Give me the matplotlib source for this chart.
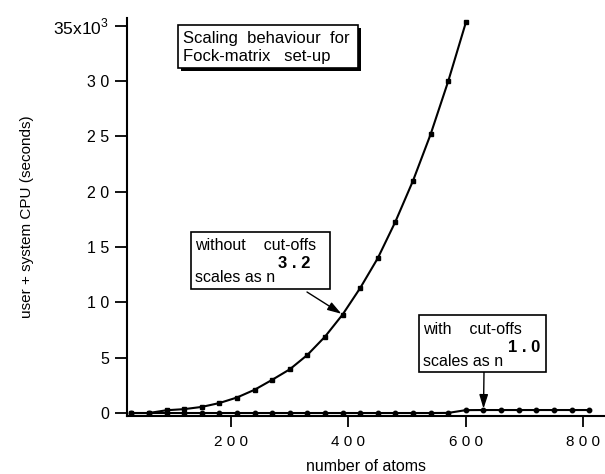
#!/usr/bin/env python3
"""Scaling behaviour for Fock-matrix set-up (CPU time vs number of atoms)."""

import matplotlib
matplotlib.use("Agg")
import matplotlib.pyplot as plt
import matplotlib.patheffects as pe
from matplotlib.patches import Rectangle

# data (seconds)
atoms_nocut = [30, 60, 90, 120, 150, 180, 210, 240, 270, 300,
               330, 360, 390, 420, 450, 480, 510, 540, 570, 600]
cpu_nocut = [0, 0, 250, 350, 550, 900, 1400, 2100, 3000, 3950,
             5250, 6900, 8900, 11300, 14000, 17300, 21000, 25200, 30000, 35300]

atoms_cut = [30, 60, 90, 120, 150, 180, 210, 240, 270, 300, 330, 360, 390, 420,
             450, 480, 510, 540, 570, 600, 630, 660, 690, 720, 750, 780, 810]
cpu_cut = [0, 0, 0, 0, 0, 0, 0, 0, 0, 0, 0, 0, 0, 0,
           0, 0, 0, 0, 10, 260, 270, 270, 270, 270, 270, 270, 270]

yticks = [0, 5000, 10000, 15000, 20000, 25000, 30000, 35000]
ytick_labels = ["0", "5", "1 0", "1 5", "2 0", "2 5", "3 0", "35x10$^{3}$"]
xticks = [200, 400, 600, 800]
xtick_labels = ["2 0 0", "4 0 0", "6 0 0", "8 0 0"]

W, H = 605, 474
plt.rcParams["font.family"] = ["Liberation Sans", "DejaVu Sans"]
plt.rcParams["mathtext.fontset"] = "custom"
plt.rcParams["mathtext.rm"] = "Liberation Sans"


def px(x, y):
    """pixel position measured from top-left -> figure fraction"""
    return x / W, 1 - y / H


def add_box(fig, x0, y0, x1, y1, shadow=False):
    fx, fy = px(x0, y1)
    rect = Rectangle((fx, fy), (x1 - x0) / W, (y1 - y0) / H, transform=fig.transFigure,
                     facecolor="white", edgecolor="black", linewidth=1.2, zorder=5)
    if shadow:
        rect.set_path_effects([pe.SimplePatchShadow(offset=(1.8, -1.8), shadow_rgbFace="black", alpha=1.0),
                               pe.Normal()])
    fig.add_artist(rect)


def add_text(fig, x, y, s, **kw):
    fx, fy = px(x, y)
    fig.text(fx, fy, s, ha="left", va="center", zorder=6, **kw)


def add_arrow(ax, tip, start):
    ax.annotate("", xy=tip, xycoords="data", xytext=px(*start), textcoords="figure fraction",
                arrowprops=dict(arrowstyle="-|>,head_length=0.7,head_width=0.22", color="black",
                                lw=1.0, mutation_scale=12, shrinkA=0, shrinkB=1))


fig = plt.figure(figsize=(W / 100, H / 100), dpi=100)
ax = fig.add_axes([127 / W, 1 - 416 / H, 1 - 127 / W, (416 - 18) / H])

ax.plot(atoms_nocut, cpu_nocut, color="black", linewidth=1.5, marker="s", markersize=3.2)
ax.plot(atoms_cut, cpu_cut, color="black", linewidth=1.5, marker="o", markersize=3.2)

ax.set_xlim(22.7, 837)
ax.set_ylim(-270, 35700)
ax.set_xticks(xticks, xtick_labels)
ax.set_yticks(yticks, ytick_labels)
ax.tick_params(direction="out", length=9, width=1.3, labelsize=11.5, pad=4)
ax.tick_params(axis="x", length=8, pad=6, labelsize=11)
for side in ("top", "right"):
    ax.spines[side].set_visible(False)
for side in ("left", "bottom"):
    ax.spines[side].set_linewidth(1.5)
ax.get_yticklabels()[-1].set_fontsize(12.5)

ax.set_xlabel("number of atoms", fontsize=11.5, labelpad=7)
ax.set_ylabel("user + system CPU (seconds)", fontsize=11, labelpad=14)

# title box
add_box(fig, 178, 25, 358, 68, shadow=True)
add_text(fig, 183, 38, "Scaling  behaviour  for", fontsize=12)
add_text(fig, 183, 57, "Fock-matrix   set-up", fontsize=12)

# without cut-offs
add_box(fig, 191, 232, 330, 289)
add_text(fig, 195, 246, "without    cut-offs", fontsize=11.5)
add_text(fig, 195, 277, "scales as n", fontsize=11.5)
add_text(fig, 278, 264, "3 . 2", fontsize=12, fontweight="bold")
add_arrow(ax, (atoms_nocut[12], cpu_nocut[12]), (307, 292))

# with cut-offs
add_box(fig, 419, 315, 546, 372)
add_text(fig, 423, 329, "with    cut-offs", fontsize=11.5)
add_text(fig, 423, 361, "scales as n", fontsize=11.5)
add_text(fig, 508, 347, "1 . 0", fontsize=12, fontweight="bold")
add_arrow(ax, (atoms_cut[20], cpu_cut[20]), (484, 372))

fig.savefig("out.png", dpi=100)
